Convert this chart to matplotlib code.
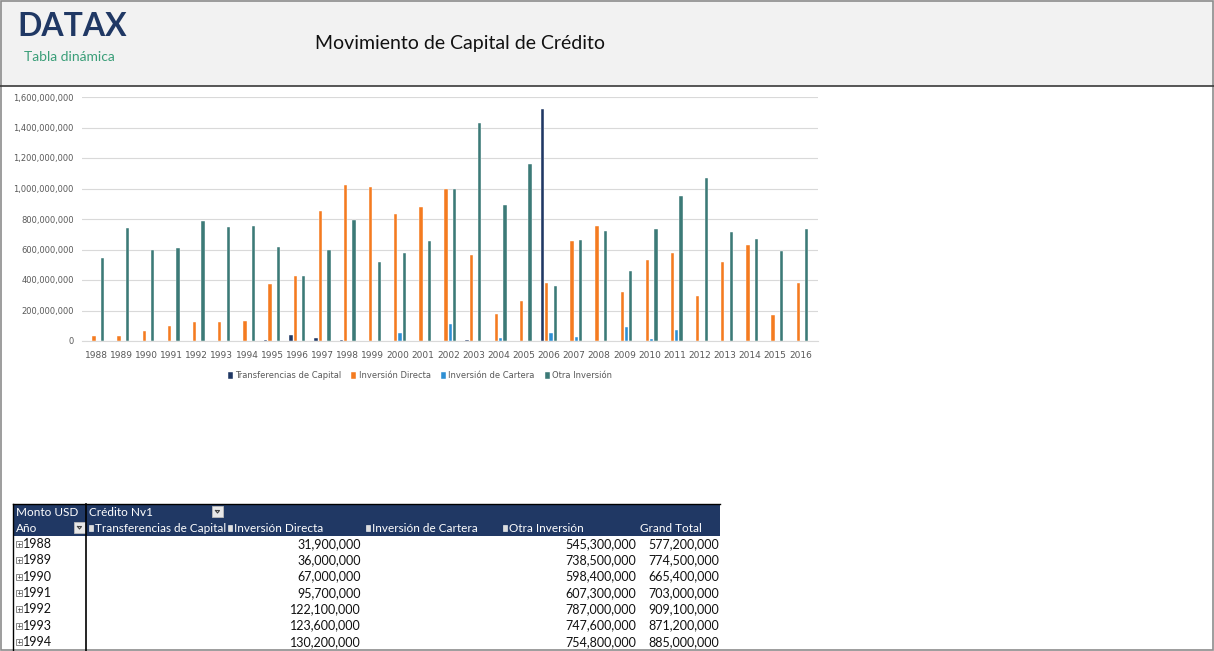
import numpy as np
import matplotlib.pyplot as plt
from matplotlib.patches import Rectangle
from matplotlib.ticker import FuncFormatter

years = list(range(1988, 2017))
transferencias = [0, 0, 0, 0, 0, 0, 0, 9, 37, 22, 9, 0, 0, 0, 0,
                  9, 2, 2, 1520, 2, 2, 2, 2, 2, 2, 2, 2, 2, 2]
directa = [31.9, 36.0, 67.0, 95.7, 122.1, 123.6, 130.2, 376, 428, 854, 1026,
           1009, 834, 878, 998, 565, 179, 264, 380, 657, 755, 323, 531, 576,
           295, 515, 631, 168, 380]
cartera = [0, 0, 0, 0, 0, 0, 0, 0, 2, 0, 0, 0, 55, 0, 114, 2, 22, 0, 55, 28,
           0, 92, 11, 74, 0, 0, 0, 0, 0]
otra = [545.3, 738.5, 598.4, 607.3, 787.0, 747.6, 754.8, 616, 426, 598, 793,
        517, 576, 657, 998, 1428, 893, 1162, 360, 662, 723, 461, 734, 952,
        1068, 716, 670, 592, 736]

series_names = ['Transferencias de Capital', 'Inversión Directa',
                'Inversión de Cartera', 'Otra Inversión']
colors = ['#203864', '#F47B20', '#2E8FD3', '#3C7A77']
table_years = 7  # rows visible in the pivot table

NAVY = '#203864'
W, H = 1214, 651
fig = plt.figure(figsize=(W / 100, H / 100), dpi=100)
fig.patch.set_facecolor('white')

# overlay in pixel coordinates for header + table
ov = fig.add_axes([0, 0, 1, 1])
ov.set_xlim(0, W)
ov.set_ylim(H, 0)
ov.axis('off')

ov.add_patch(Rectangle((0, 0), W, 86, facecolor='#f2f2f2', edgecolor='none'))
ov.plot([0, W], [86, 86], color='#3a3a3a', lw=1.2)
ov.add_patch(Rectangle((0.5, 0.5), W - 1.5, H - 1.5, facecolor='none',
                       edgecolor='#8c8c8c', lw=1.2))

ov.text(17, 26, 'DATAX', fontsize=23, fontweight='bold', color=NAVY,
        family='Lato', va='center', ha='left')
ov.text(24, 57, 'Tabla dinámica', fontsize=10, color='#3a9e78',
        family='Lato', va='center', ha='left')
ov.text(460, 43, 'Movimiento de Capital de Crédito', fontsize=14,
        color='#111111', family='Lato', va='center', ha='center')

# pivot table
tf = 'Lato'
fs = 8.5
ov.add_patch(Rectangle((13, 504), 707, 32, facecolor=NAVY, edgecolor='none'))
ov.plot([86, 86], [504, 651], color='black', lw=1.2)
ov.plot([13, 13], [504, 651], color='black', lw=1)
ov.plot([13, 720], [504, 504], color='black', lw=1)
ov.text(16, 512, 'Monto USD', color='white', fontsize=fs, family=tf, va='center')
ov.text(89, 512, 'Crédito Nv1', color='white', fontsize=fs, family=tf, va='center')
ov.text(16, 528, 'Año', color='white', fontsize=fs, family=tf, va='center')
for bx, by in [(212, 506), (74, 522)]:
    ov.add_patch(Rectangle((bx, by), 11, 11, facecolor='#e8e8e8',
                           edgecolor='#bbbbbb', lw=0.6))
    ov.plot([bx + 3.5, bx + 7.5, bx + 5.5, bx + 3.5],
            [by + 4.5, by + 4.5, by + 7, by + 4.5], color='#444444', lw=0.8)

hx = [89, 228, 366, 503]
for x, name in zip(hx, series_names):
    ov.add_patch(Rectangle((x, 525), 4, 6, facecolor='#dddddd',
                           edgecolor='white', lw=0.4))
    ov.text(x + 6, 528.5, name, color='white', fontsize=fs, family=tf,
            va='center')
ov.text(640, 528.5, 'Grand Total', color='white', fontsize=fs, family=tf,
        va='center')

col_right = [None, 361, None, 636]
row_h = 16.3
for i in range(table_years):
    y = 544 + i * row_h
    ov.add_patch(Rectangle((16, y - 3), 6, 6, facecolor='white',
                           edgecolor='#777777', lw=0.6))
    ov.plot([17.5, 20.5], [y, y], color='#444444', lw=0.5)
    ov.plot([19, 19], [y - 1.5, y + 1.5], color='#444444', lw=0.5)
    ov.text(23, y, str(years[i]), fontsize=9, family=tf, va='center',
            color='#111111')
    vals = [transferencias[i], directa[i], cartera[i], otra[i]]
    for v, xr in zip(vals, col_right):
        if v and xr:
            ov.text(xr, y, f'{v * 1e6:,.0f}', fontsize=9, family=tf,
                    ha='right', va='center', color='#111111')
    ov.text(719, y, f'{sum(vals) * 1e6:,.0f}', fontsize=9, family=tf,
            ha='right', va='center', color='#111111')

# clustered bar chart
ax = fig.add_axes([82 / W, 1 - 341 / H, (818 - 82) / W, (341 - 97) / H])
x = np.arange(len(years))
slot, bw = 0.17, 0.13
for k, (vals, c, name) in enumerate(zip(
        [transferencias, directa, cartera, otra], colors, series_names)):
    ax.bar(x + (k - 1.5) * slot, np.array(vals) * 1e6, width=bw, color=c,
           label=name, edgecolor='white', linewidth=0.3, zorder=3)

ax.set_ylim(0, 1.6e9)
ax.set_xlim(-0.56, 28.7)
ax.set_yticks(np.arange(0, 1.6e9 + 1, 2e8))
ax.yaxis.set_major_formatter(FuncFormatter(lambda v, p: f'{v:,.0f}'))
ax.set_xticks(x)
ax.set_xticklabels([str(y) for y in years])
ax.tick_params(axis='both', length=0, labelsize=6, labelcolor='#595959')
ax.tick_params(axis='x', pad=7, labelsize=6.5)
ax.tick_params(axis='y', pad=6)
ax.grid(axis='y', color='#d9d9d9', lw=0.8, zorder=0)
for s in ['top', 'right', 'left']:
    ax.spines[s].set_visible(False)
ax.spines['bottom'].set_color('#d9d9d9')
ax.patch.set_alpha(0)

fig.legend(loc='center', bbox_to_anchor=(420 / W, 1 - 376 / H), ncol=4,
           frameon=False, fontsize=6, labelcolor='#595959', handlelength=0.6,
           handleheight=0.9, handletextpad=0.3, columnspacing=1.2)

fig.savefig('out.png', dpi=100, facecolor='white')
